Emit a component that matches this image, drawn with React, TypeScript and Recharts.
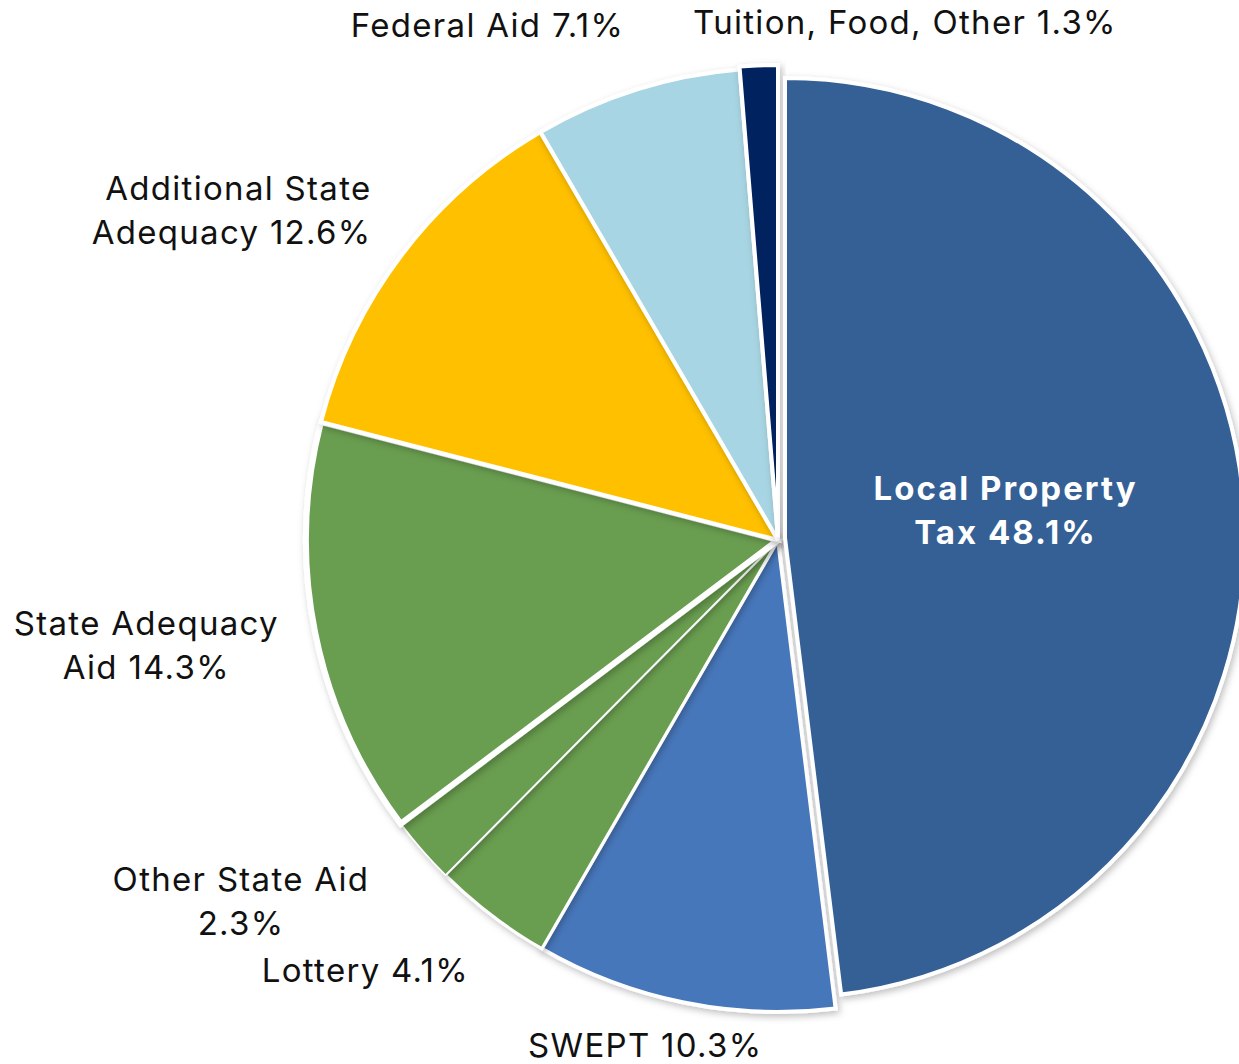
import { PieChart, Pie, Cell } from "recharts";

const categories = [
  "Local Property Tax",
  "SWEPT",
  "Lottery",
  "Other State Aid",
  "State Adequacy Aid",
  "Additional State Adequacy",
  "Federal Aid",
  "Tuition, Food, Other",
];
const shares = [48.1, 10.3, 4.1, 2.3, 14.3, 12.6, 7.1, 1.3];
const labels = [
  "Local Property\nTax 48.1%",
  "SWEPT 10.3%",
  "Lottery 4.1%",
  "Other State Aid\n2.3%",
  "State Adequacy\nAid 14.3%",
  "Additional State\nAdequacy 12.6%",
  "Federal Aid 7.1%",
  "Tuition, Food, Other 1.3%",
];
const colors = [
  "#366195",
  "#4677BB",
  "#699D4F",
  "#699D4F",
  "#699D4F",
  "#FFC000",
  "#A8D5E3",
  "#03205F",
];

const data = categories.map((name, i) => ({ name, value: shares[i] }));

// where each label sits, relative to its slice's mid angle
const labelLayout = [
  { r: 228, dx: 0, dy: -16, anchor: "middle", bold: true },
  { r: 540, dx: -25, dy: -24, anchor: "middle" },
  { r: 540, dx: 19, dy: 1, anchor: "end" },
  { r: 540, dx: -130, dy: 6, anchor: "middle" },
  { r: 540, dx: -102, dy: 0, anchor: "middle" },
  { r: 540, dx: 24, dy: -4, anchor: "end" },
  { r: 540, dx: 8, dy: 0, anchor: "end" },
  { r: 540, dx: -63, dy: 22, anchor: "start" },
];

const strokeWidths = [4, 4, 3, 1.5, 6, 4, 4, 4];

const RAD = Math.PI / 180;
const FONT = "Inter, 'Open Sans', sans-serif";

const renderLabel = (p: any) => {
  const l = labelLayout[p.index];
  const x = p.cx + l.r * Math.cos(-p.midAngle * RAD) + l.dx;
  const y = p.cy + l.r * Math.sin(-p.midAngle * RAD) + l.dy;
  const lines = labels[p.index].split("\n");
  const fs = 33;
  return (
    <text
      key={`lbl-${p.index}`}
      x={x}
      y={y}
      textAnchor={l.anchor}
      fontFamily={FONT}
      fontSize={fs}
      fontWeight={l.bold ? 700 : 400}
      letterSpacing={l.bold ? 2 : 1.3}
      fill={l.bold ? "#ffffff" : "#111111"}
    >
      {lines.map((s, k) => (
        <tspan key={k} x={x} y={y + (k - (lines.length - 1) / 2) * 44 + fs * 0.36}>
          {s}
        </tspan>
      ))}
    </text>
  );
};

const CX = 778;
const CY = 540;
const R = 472;
const noMargin = { top: 0, right: 0, bottom: 0, left: 0 };

export default function App() {
  return (
    <div style={{ position: "absolute", left: 0, top: 0, background: "#fff" }}>
      <PieChart width={1239} height={1064} margin={noMargin}>
        <defs>
          <filter id="sliceShadow" x="-20%" y="-20%" width="140%" height="140%">
            <feDropShadow dx="2" dy="3" stdDeviation="3.5" floodColor="#000" floodOpacity="0.25" />
          </filter>
        </defs>
        {/* base slices */}
        <Pie
          data={data}
          dataKey="value"
          nameKey="name"
          cx={CX}
          cy={CY}
          outerRadius={R}
          startAngle={90}
          endAngle={-270}
          stroke="#fff"
          isAnimationActive={false}
        >
          {data.map((d, i) => (
            <Cell
              key={d.name}
              fill={i === 0 || i === 7 ? "none" : colors[i]}
              stroke={i === 0 || i === 7 ? "none" : "#fff"}
              strokeWidth={strokeWidths[i]}
              filter={i === 0 || i === 7 ? undefined : "url(#sliceShadow)"}
            />
          ))}
        </Pie>
        {/* Tuition slice, pulled out a little */}
        <Pie
          data={data}
          dataKey="value"
          cx={CX}
          cy={CY - 3}
          outerRadius={R}
          startAngle={90}
          endAngle={-270}
          isAnimationActive={false}
        >
          {data.map((d, i) => (
            <Cell
              key={d.name}
              fill={i === 7 ? colors[i] : "none"}
              stroke={i === 7 ? "#fff" : "none"}
              strokeWidth={strokeWidths[i]}
              filter={i === 7 ? "url(#sliceShadow)" : undefined}
            />
          ))}
        </Pie>
        {/* Local Property Tax slice, exploded */}
        <Pie
          data={data}
          dataKey="value"
          cx={CX + 7}
          cy={CY - 2}
          outerRadius={460}
          startAngle={90}
          endAngle={-270}
          isAnimationActive={false}
        >
          {data.map((d, i) => (
            <Cell
              key={d.name}
              fill={i === 0 ? colors[i] : "none"}
              stroke={i === 0 ? "#fff" : "none"}
              strokeWidth={strokeWidths[i]}
              filter={i === 0 ? "url(#sliceShadow)" : undefined}
            />
          ))}
        </Pie>
        {/* labels on top */}
        <Pie
          data={data}
          dataKey="value"
          cx={CX}
          cy={CY}
          outerRadius={R}
          startAngle={90}
          endAngle={-270}
          fill="none"
          stroke="none"
          labelLine={false}
          label={renderLabel}
          isAnimationActive={false}
        />
      </PieChart>
    </div>
  );
}
